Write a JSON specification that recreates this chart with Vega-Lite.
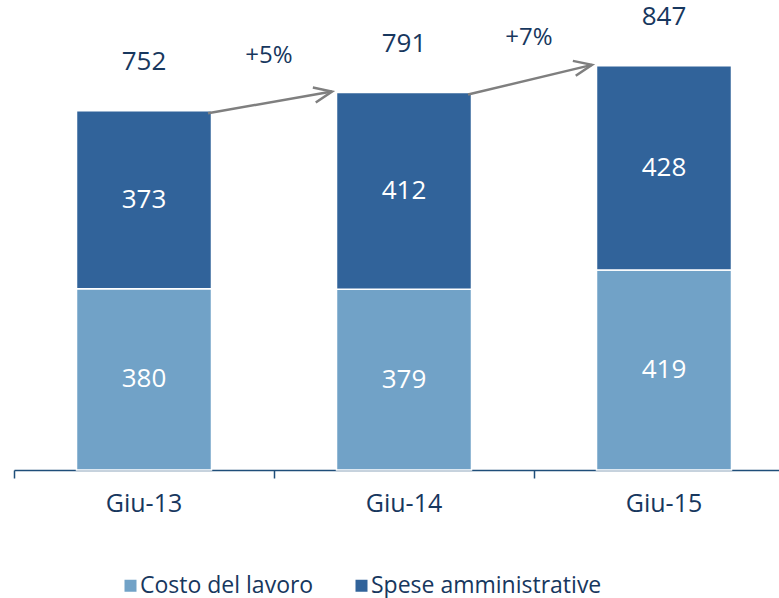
{
  "$schema": "https://vega.github.io/schema/vega-lite/v6.json",
  "width": 765,
  "height": 470,
  "autosize": "none",
  "padding": {"top": 0, "left": 14, "right": 0, "bottom": 128},
  "background": "white",
  "config": {
    "view": {"stroke": null},
    "font": "Open Sans",
    "text": {"font": "Open Sans"}
  },
  "datasets": {
    "barre": [
      {"periodo": "Giu-13", "voce": "Costo del lavoro", "valore": 380},
      {"periodo": "Giu-13", "voce": "Spese amministrative", "valore": 373},
      {"periodo": "Giu-14", "voce": "Costo del lavoro", "valore": 379},
      {"periodo": "Giu-14", "voce": "Spese amministrative", "valore": 412},
      {"periodo": "Giu-15", "voce": "Costo del lavoro", "valore": 419},
      {"periodo": "Giu-15", "voce": "Spese amministrative", "valore": 428}
    ],
    "totali": [
      {"periodo": "Giu-13", "totale": 752},
      {"periodo": "Giu-14", "totale": 791},
      {"periodo": "Giu-15", "totale": 847}
    ],
    "frecce": [
      {"da": "Giu-13", "a": "Giu-14", "tot_da": 752, "tot_a": 791, "variazione": "+5%"},
      {"da": "Giu-14", "a": "Giu-15", "tot_da": 791, "tot_a": 847, "variazione": "+7%"}
    ]
  },
  "layer": [
    {
      "data": {"name": "barre"},
      "mark": {"type": "bar", "width": 135, "stroke": "white", "strokeWidth": 1.5},
      "encoding": {
        "x": {
          "field": "periodo",
          "type": "nominal",
          "sort": ["Giu-13", "Giu-14", "Giu-15"],
          "scale": {"range": [0, 780], "paddingInner": 0, "paddingOuter": 0},
          "axis": {
            "title": null,
            "labelAngle": 0,
            "bandPosition": 0,
            "domainColor": "#1F4E79",
            "domainWidth": 1.5,
            "tickColor": "#1F4E79",
            "tickWidth": 1.5,
            "tickSize": 8,
            "labelFontSize": 25,
            "labelColor": "#17375E",
            "labelPadding": 13,
            "labelFont": "Open Sans"
          }
        },
        "y": {
          "field": "valore",
          "type": "quantitative",
          "stack": "zero",
          "scale": {"domain": [0, 985], "nice": false},
          "axis": null
        },
        "order": {"field": "voce", "type": "nominal", "sort": "ascending"},
        "color": {
          "field": "voce",
          "type": "nominal",
          "scale": {
            "domain": ["Costo del lavoro", "Spese amministrative"],
            "range": ["#71A2C7", "#31639A"]
          },
          "legend": {
            "title": null,
            "orient": "none",
            "direction": "horizontal",
            "legendX": 105,
            "legendY": 574,
            "symbolType": "square",
            "symbolSize": 144,
            "symbolStrokeWidth": 0,
            "labelFontSize": 23,
            "labelColor": "#17375E",
            "labelFont": "Open Sans",
            "labelOffset": -2,
            "labelLimit": 400,
            "columnPadding": 36
          }
        }
      }
    },
    {
      "data": {"name": "barre"},
      "mark": {"type": "text", "color": "white", "fontSize": 26, "baseline": "middle", "align": "center"},
      "encoding": {
        "x": {"field": "periodo", "type": "nominal", "sort": ["Giu-13", "Giu-14", "Giu-15"]},
        "y": {"field": "valore", "type": "quantitative", "stack": "zero", "bandPosition": 0.5},
        "detail": {"field": "voce", "type": "nominal"},
        "order": {"field": "voce", "type": "nominal", "sort": "ascending"},
        "text": {"field": "valore", "type": "quantitative"}
      }
    },
    {
      "data": {"name": "totali"},
      "mark": {"type": "text", "color": "#17375E", "fontSize": 26, "baseline": "middle", "align": "center", "dy": -49},
      "encoding": {
        "x": {"field": "periodo", "type": "nominal", "sort": ["Giu-13", "Giu-14", "Giu-15"]},
        "y": {"field": "totale", "type": "quantitative"},
        "text": {"field": "totale", "type": "quantitative"}
      }
    },
    {
      "data": {"name": "frecce"},
      "mark": {"type": "rule", "color": "#7F7F7F", "strokeWidth": 2.5, "xOffset": 64, "x2Offset": -72, "yOffset": 2, "y2Offset": -1},
      "encoding": {
        "x": {"field": "da", "type": "nominal", "sort": ["Giu-13", "Giu-14", "Giu-15"]},
        "x2": {"field": "a"},
        "y": {"field": "tot_da", "type": "quantitative"},
        "y2": {"field": "tot_a"}
      }
    },
    {
      "data": {"name": "frecce"},
      "mark": {
        "type": "point",
        "shape": "M -1 -0.42 L 0 0 L -1 0.42",
        "filled": false,
        "stroke": "#7F7F7F",
        "strokeWidth": 2.5,
        "size": 1300,
        "angle": -11,
        "opacity": 1,
        "xOffset": -72,
        "yOffset": -1
      },
      "encoding": {
        "x": {"field": "a", "type": "nominal", "sort": ["Giu-13", "Giu-14", "Giu-15"]},
        "y": {"field": "tot_a", "type": "quantitative"}
      }
    },
    {
      "data": {"name": "frecce"},
      "mark": {"type": "text", "color": "#17375E", "fontSize": 24, "baseline": "middle", "align": "center", "xOffset": 125, "dy": -55},
      "encoding": {
        "x": {"field": "da", "type": "nominal", "sort": ["Giu-13", "Giu-14", "Giu-15"]},
        "y": {"field": "tot_da", "type": "quantitative"},
        "text": {"field": "variazione", "type": "nominal"}
      }
    }
  ]
}
